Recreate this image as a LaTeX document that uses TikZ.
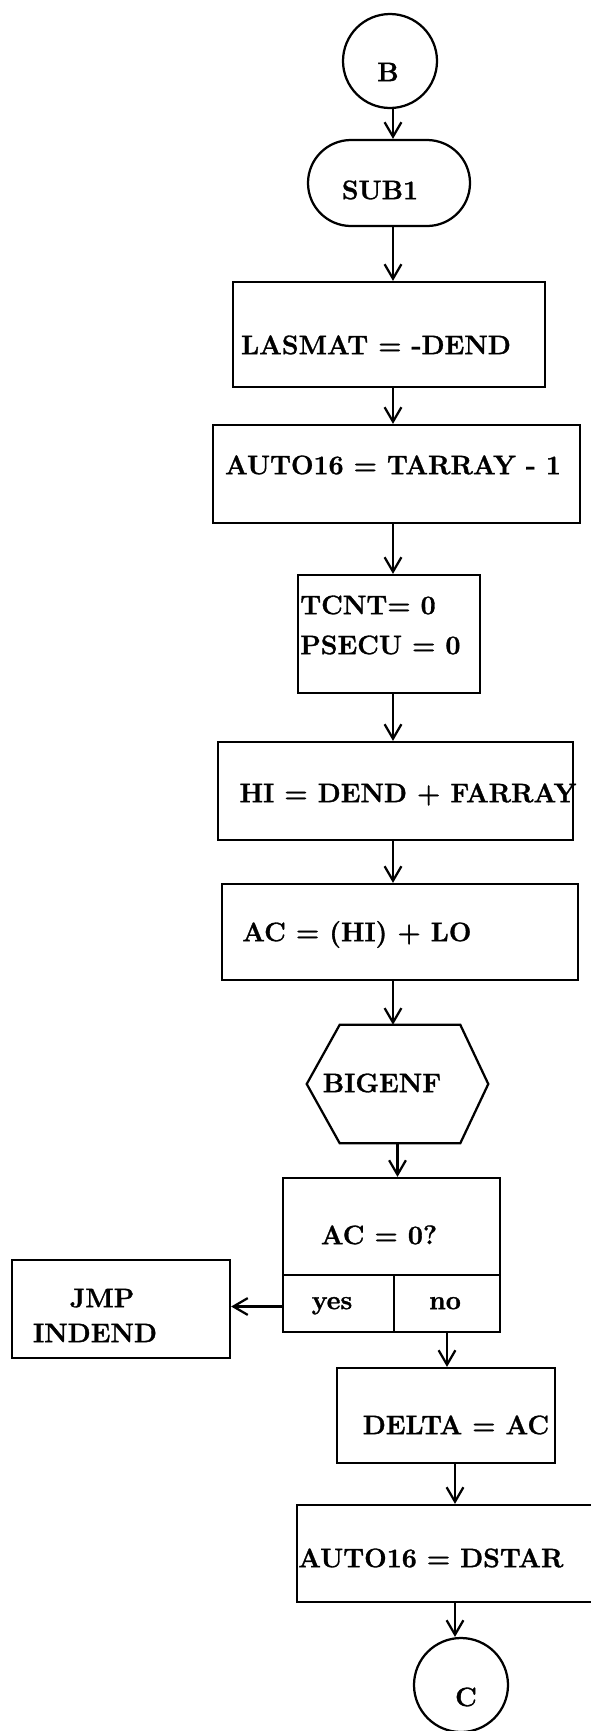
\documentclass[tikz,border=0pt]{standalone}
\usepackage{fontspec}
\setmainfont{Latin Modern Roman}[BoldFeatures={FakeBold=1.2}]
\usetikzlibrary{arrows.meta,shapes.misc}
\tikzset{
	box/.style={draw, line width=1.6pt, inner sep=0pt},
	lbl/.style={font=\fontsize{19}{23}\selectfont\bfseries, inner sep=0pt, text height=13pt, text depth=0pt},
	arr/.style={line width=1.6pt, -{Straight Barb[length=3.6mm,width=4.2mm]}}
}
\begin{document}
\begin{tikzpicture}[x=.25mm, y=-.25mm]
		\def\u{.25mm}
		\useasboundingbox (0,0) rectangle (591,1731);
		% connectors B and C, subroutine
		\node[box, circle, minimum size=94*\u] (B) at (390,61) {};
		\node[box, circle, minimum size=94*\u] (C) at (461,1685) {};
		\node[box, rounded rectangle, minimum width=162*\u, minimum height=86*\u] (SUB1) at (389,183) {};
		% process boxes
		\foreach \name/\cx/\cy/\w/\h in {
				LASMAT/389/334.5/312/105,
				TARRAY/396.5/474/367/98,
				TCNT/389/634/182/118,
				HI/395.5/791/355/98,
				ACLO/400/932/356/96,
				ACtest/391.5/1226.5/217/97,
				yes/338.5/1303.5/111/57,
				no/447/1303.5/106/57,
				JMP/121/1309/218/98,
				DELTA/446/1415.5/218/95,
				DSTAR/453.5/1553.5/313/97}{
			\node[box, minimum width=\w*\u, minimum height=\h*\u] (\name) at (\cx,\cy) {};
		}
		% hexagon
		\node[inner sep=0pt, minimum width=181*\u, minimum height=118*\u] (BIGENF) at (397.5,1084) {};
		\draw[line width=1.6pt] (BIGENF.west) -- ([xshift=33*\u]BIGENF.north west)
			-- ([xshift=-28*\u]BIGENF.north east) -- (BIGENF.east)
			-- ([xshift=-28*\u]BIGENF.south east) -- ([xshift=33*\u]BIGENF.south west) -- cycle;
		% texts
		\foreach \name/\cx/\cy/\txt in {
				B/388/72/B,
				C/466/1697/C,
				SUB1/380/190/SUB1,
				LASMAT/376/345/LASMAT = -DEND,
				TARRAY/393/465/AUTO16 = TARRAY - 1,
				HI/408/793/HI = DEND + FARRAY,
				BIGENF/382/1083/BIGENF,
				ACtest/379/1235/AC = 0?,
				yes/332/1300/yes,
				no/445/1300/no,
				JMP/102/1298/JMP,
				INDEND/95/1333/INDEND,
				DELTA/456/1425/DELTA = AC}{
			\node[lbl] (t\name) at (\cx,\cy) {\txt};
		}
		\foreach \name/\cx/\cy/\txt in {
				TCNT/300/605/TCNT= 0,
				PSECU/300/645/PSECU = 0,
				ACLO/242/932/AC = (HI) + LO,
				DSTAR/298/1558/AUTO16 = DSTAR}{
			\node[lbl, anchor=west] (t\name) at (\cx,\cy) {\txt};
		}
		% flow
		\coordinate (spine) at (393,0);
		\coordinate (spineb) at (455,0);
		\foreach \a/\b in {B/SUB1, SUB1/LASMAT, LASMAT/TARRAY, TARRAY/TCNT, TCNT/HI, HI/ACLO, ACLO/BIGENF}{
			\draw[arr] (\a.south -| spine) -- (\b.north -| spine);
		}
		\draw[arr] (BIGENF.south) -- (BIGENF.south |- ACtest.north);
		\draw[arr] ([yshift=-3*\u]yes.west) -- ([yshift=-3*\u]yes.west -| JMP.east);
		\draw[arr] (no.south) -- (no.south |- DELTA.north);
		\draw[arr] (DELTA.south -| spineb) -- (DSTAR.north -| spineb);
		\draw[arr] (DSTAR.south -| spineb) -- (C.north -| spineb);
	\end{tikzpicture}
\end{document}
